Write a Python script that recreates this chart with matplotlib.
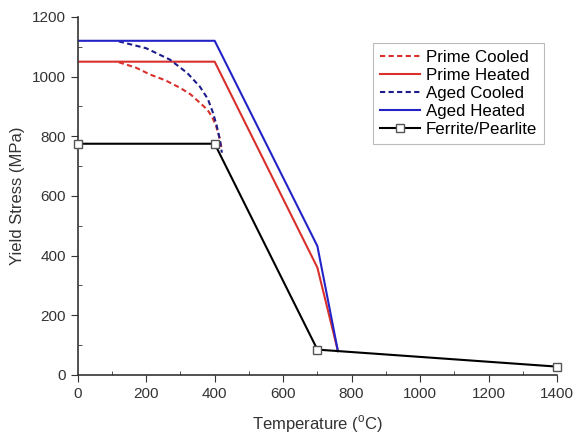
import matplotlib.pyplot as plt
from matplotlib.ticker import MultipleLocator

plt.rcParams['font.family'] = ['Liberation Sans', 'DejaVu Sans']

# Prime steel, heated
prime_heated_t = [0, 400, 700, 760]
prime_heated_s = [1050, 1050, 360, 80]

# Aged steel, heated
aged_heated_t = [0, 400, 700, 760]
aged_heated_s = [1120, 1120, 432, 80]

# Prime steel, cooled (curve)
prime_cooled_t = [120, 170, 211, 255, 298, 330, 357, 378, 392, 404, 413, 420]
prime_cooled_s = [1048, 1030, 1007, 988, 963, 940, 912, 890, 866, 835, 800, 760]

# Aged steel, cooled
aged_cooled_t = [120, 200, 269, 320, 357, 380, 395, 406, 415, 421]
aged_cooled_s = [1118, 1095, 1057, 1012, 966, 925, 879, 835, 789, 745]

# Ferrite/Pearlite
fp_t = [0, 400, 700, 1400]
fp_s = [775, 775, 85, 28]

fig = plt.figure(figsize=(5.76, 4.34), dpi=100)
ax = fig.add_axes([0.135, 0.136, 0.832, 0.825])

red = '#d9302c'
blue = '#2323c8'
navy = '#1c1c8a'

ax.plot(prime_cooled_t, prime_cooled_s, '--', color=red, lw=1.5, dashes=(2.5, 1.6), label='Prime Cooled')
ax.plot(prime_heated_t, prime_heated_s, '-', color=red, lw=1.5, label='Prime Heated')
ax.plot(aged_cooled_t, aged_cooled_s, '--', color=navy, lw=1.5, dashes=(2.5, 1.6), label='Aged Cooled')
ax.plot(aged_heated_t, aged_heated_s, '-', color=blue, lw=1.5, label='Aged Heated')
ax.plot(fp_t, fp_s, '-', color='black', lw=1.5, marker='s', ms=6,
        mfc='white', mec='#555555', label='Ferrite/Pearlite', clip_on=False, zorder=5)

ax.set_xlim(0, 1400)
ax.set_ylim(0, 1200)
ax.xaxis.set_major_locator(MultipleLocator(200))
ax.xaxis.set_minor_locator(MultipleLocator(100))
ax.yaxis.set_major_locator(MultipleLocator(200))
ax.yaxis.set_minor_locator(MultipleLocator(100))
ax.tick_params(which='major', direction='out', length=5, labelsize=11, colors='#333333')
ax.tick_params(which='minor', direction='in', length=3, colors='#333333')
for s in ['top', 'right']:
    ax.spines[s].set_visible(False)
for s in ['left', 'bottom']:
    ax.spines[s].set_linewidth(1.2)
    ax.spines[s].set_color('#333333')

ax.set_xlabel('Temperature ($^{\\mathregular{o}}$C)', fontsize=12, color='#333333', labelpad=9)
ax.set_ylabel('Yield Stress (MPa)', fontsize=12, color='#333333', labelpad=5)

leg = ax.legend(loc='upper right', bbox_to_anchor=(0.99, 0.95), fontsize=12.2,
                frameon=True, fancybox=False, handlelength=2.4, handletextpad=0.3,
                borderpad=0.4, labelspacing=0.18)
leg.get_frame().set_edgecolor('#aaaaaa')
leg.get_frame().set_linewidth(0.8)

fig.savefig('out.png', dpi=100)
